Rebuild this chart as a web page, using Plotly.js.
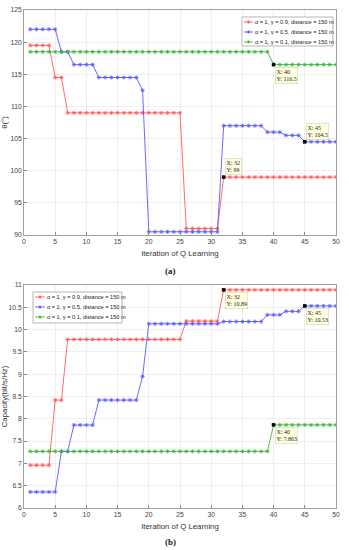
<!DOCTYPE html>
<html><head><meta charset="utf-8">
<script src="https://cdn.plot.ly/plotly-3.0.1.min.js"></script>
<style>html,body{margin:0;padding:0;background:#fff}#chart{width:349px;height:550px}</style>
</head><body><div id="chart"></div>
<script>
const iterations = [1,2,3,4,5,6,7,8,9,10,11,12,13,14,15,16,17,18,19,20,21,22,23,24,25,26,27,28,29,30,31,32,33,34,35,36,37,38,39,40,41,42,43,44,45,46,47,48,49,50];
const seriesNames = ['α = 1, γ = 0.9, distance = 150 m','α = 1, γ = 0.5, distance = 150 m','α = 1, γ = 0.1, distance = 150 m'];
const angleG09 = [119.5,119.5,119.5,119.5,114.5,114.5,109,109,109,109,109,109,109,109,109,109,109,109,109,109,109,109,109,109,109,91,91,91,91,91,91,99,99,99,99,99,99,99,99,99,99,99,99,99,99,99,99,99,99,99];
const angleG05 = [122,122,122,122,122,118.5,118.5,116.5,116.5,116.5,116.5,114.5,114.5,114.5,114.5,114.5,114.5,114.5,112.5,90.5,90.5,90.5,90.5,90.5,90.5,90.5,90.5,90.5,90.5,90.5,90.5,107,107,107,107,107,107,107,106,106,106,105.5,105.5,105.5,104.5,104.5,104.5,104.5,104.5,104.5];
const angleG01 = [118.5,118.5,118.5,118.5,118.5,118.5,118.5,118.5,118.5,118.5,118.5,118.5,118.5,118.5,118.5,118.5,118.5,118.5,118.5,118.5,118.5,118.5,118.5,118.5,118.5,118.5,118.5,118.5,118.5,118.5,118.5,118.5,118.5,118.5,118.5,118.5,118.5,118.5,118.5,116.5,116.5,116.5,116.5,116.5,116.5,116.5,116.5,116.5,116.5,116.5];
const capG09 = [6.96,6.96,6.96,6.96,8.42,8.42,9.78,9.78,9.78,9.78,9.78,9.78,9.78,9.78,9.78,9.78,9.78,9.78,9.78,9.78,9.78,9.78,9.78,9.78,9.78,10.19,10.19,10.19,10.19,10.19,10.19,10.89,10.89,10.89,10.89,10.89,10.89,10.89,10.89,10.89,10.89,10.89,10.89,10.89,10.89,10.89,10.89,10.89,10.89,10.89];
const capG05 = [6.36,6.36,6.36,6.36,6.36,7.27,7.27,7.86,7.86,7.86,7.86,8.42,8.42,8.42,8.42,8.42,8.42,8.42,8.95,10.13,10.13,10.13,10.13,10.13,10.13,10.13,10.13,10.13,10.13,10.13,10.13,10.18,10.18,10.18,10.18,10.18,10.18,10.18,10.33,10.33,10.33,10.41,10.41,10.41,10.53,10.53,10.53,10.53,10.53,10.53];
const capG01 = [7.27,7.27,7.27,7.27,7.27,7.27,7.27,7.27,7.27,7.27,7.27,7.27,7.27,7.27,7.27,7.27,7.27,7.27,7.27,7.27,7.27,7.27,7.27,7.27,7.27,7.27,7.27,7.27,7.27,7.27,7.27,7.27,7.27,7.27,7.27,7.27,7.27,7.27,7.27,7.863,7.863,7.863,7.863,7.863,7.863,7.863,7.863,7.863,7.863,7.863];
// data tips: [iteration, series index]
const angleTips = [[40,2],[45,1],[32,0]];
const capTips = [[32,0],[45,1],[40,2]];

const colors = ['#ff5a5a','#5a5aff','#3cb43c'];
const sans = '"Liberation Sans",Arial,sans-serif';
const serif = '"Liberation Serif","DejaVu Serif",serif';
const angleSets = [angleG09, angleG05, angleG01];
const capSets = [capG09, capG05, capG01];

const traces = [];
angleSets.forEach((ys,i)=>traces.push({x:iterations,y:ys,name:seriesNames[i],xaxis:'x',yaxis:'y',showlegend:false,
  mode:'lines+markers',line:{color:colors[i],width:0.9},
  marker:{symbol:'asterisk-open',size:3.5,color:colors[i],line:{color:colors[i],width:0.8}}}));
capSets.forEach((ys,i)=>traces.push({x:iterations,y:ys,name:seriesNames[i],xaxis:'x2',yaxis:'y2',showlegend:false,
  mode:'lines+markers',line:{color:colors[i],width:0.9},
  marker:{symbol:'asterisk-open',size:3.5,color:colors[i],line:{color:colors[i],width:0.8}}}));
traces.push({x:angleTips.map(t=>t[0]),y:angleTips.map(t=>angleSets[t[1]][t[0]-1]),xaxis:'x',yaxis:'y',mode:'markers',showlegend:false,
  marker:{symbol:'square',size:3.5,color:'#000'},hoverinfo:'skip'});
traces.push({x:capTips.map(t=>t[0]),y:capTips.map(t=>capSets[t[1]][t[0]-1]),xaxis:'x2',yaxis:'y2',mode:'markers',showlegend:false,
  marker:{symbol:'square',size:3.5,color:'#000'},hoverinfo:'skip'});

function tip(xr,yr,t,sets,pos){
  const v = sets[t[1]][t[0]-1];
  return {xref:xr,yref:yr,x:t[0],y:v,text:'X: '+t[0]+'<br>Y: '+v,showarrow:false,align:'left',
    xanchor:'left',yanchor:pos==='above'?'bottom':'top',xshift:1,yshift:pos==='above'?2:-2,
    bgcolor:'#ffffe0',bordercolor:'#c8c8b0',borderwidth:0.5,borderpad:1,
    font:{family:serif,size:6,color:'#222'}};
}
const annotations = [
  tip('x','y',angleTips[0],angleSets,'below'),
  tip('x','y',angleTips[1],angleSets,'above'),
  tip('x','y',angleTips[2],angleSets,'above'),
  tip('x2','y2',capTips[0],capSets,'below'),
  tip('x2','y2',capTips[1],capSets,'below'),
  tip('x2','y2',capTips[2],capSets,'below'),
  {xref:'paper',yref:'paper',x:0.47,y:0.476,text:'<b>(a)</b>',showarrow:false,yanchor:'middle',
   font:{family:serif,size:9,color:'#222'}},
  {xref:'paper',yref:'paper',x:0.47,y:-0.068,text:'<b>(b)</b>',showarrow:false,yanchor:'middle',
   font:{family:serif,size:9,color:'#222'}}
];
const shapes = [];

// hand-drawn legend boxes (pixel geometry converted to paper units)
const PL=24, PR=336, PT=10, PB=508;
const px2x = p => (p-PL)/(PR-PL);
const py2y = p => (PB-p)/(PB-PT);
function addLegend(box, rows, lineX0, lineX1, textX){
  shapes.push({type:'rect',xref:'paper',yref:'paper',x0:px2x(box[0]),x1:px2x(box[2]),y0:py2y(box[3]),y1:py2y(box[1]),
    fillcolor:'#fff',line:{color:'#888',width:0.6},layer:'above'});
  rows.forEach((ry,i)=>{
    shapes.push({type:'line',xref:'paper',yref:'paper',x0:px2x(lineX0),x1:px2x(lineX1),y0:py2y(ry),y1:py2y(ry),
      line:{color:colors[i],width:0.9},layer:'above'});
    const mx=(lineX0+lineX1)/2, s=1.6, d=1.15;
    shapes.push({type:'path',xref:'paper',yref:'paper',layer:'above',line:{color:colors[i],width:0.8},
      path:`M${px2x(mx-s)},${py2y(ry)}L${px2x(mx+s)},${py2y(ry)}M${px2x(mx)},${py2y(ry-s)}L${px2x(mx)},${py2y(ry+s)}`+
           `M${px2x(mx-d)},${py2y(ry-d)}L${px2x(mx+d)},${py2y(ry+d)}M${px2x(mx-d)},${py2y(ry+d)}L${px2x(mx+d)},${py2y(ry-d)}`});
    annotations.push({xref:'paper',yref:'paper',x:px2x(textX),y:py2y(ry),text:seriesNames[i],showarrow:false,
      xanchor:'left',yanchor:'middle',borderpad:0,font:{family:sans,size:5.6,color:'#222'}});
  });
}
addLegend([242,17,333,46],[22,32,42],244,253,253.5);
addLegend([33,292,122,323],[297,307,317],35,45,45.5);

const axBase = {showline:true,mirror:true,linecolor:'#888',linewidth:0.8,gridcolor:'#e4e4e4',gridwidth:0.6,
  ticks:'inside',ticklen:3,tickcolor:'#888',zeroline:false,tickfont:{family:sans,size:6.8,color:'#444'}};
const titleFont = {family:sans,size:7.8,color:'#333'};

const layout = {
  width:349,height:550,margin:{l:PL,r:349-PR,t:PT,b:550-PB},paper_bgcolor:'#fff',plot_bgcolor:'#fff',
  showlegend:false,
  xaxis:Object.assign({},axBase,{domain:[0,1],anchor:'y',range:[0,50],dtick:5,
    title:{text:'iteration of Q Learning',font:titleFont,standoff:6}}),
  yaxis:Object.assign({},axBase,{domain:[py2y(235),1],anchor:'x',range:[90,125],dtick:5,
    title:{text:'θ(°)',font:titleFont,standoff:3}}),
  xaxis2:Object.assign({},axBase,{domain:[0,1],anchor:'y2',range:[0,50],dtick:5,
    title:{text:'Iteration of Q Learning',font:titleFont,standoff:6}}),
  yaxis2:Object.assign({},axBase,{domain:[0,py2y(285)],anchor:'x2',range:[6,11],dtick:0.5,
    title:{text:'Capacity(bit/s/Hz)',font:titleFont,standoff:3}}),
  annotations:annotations,
  shapes:shapes
};
Plotly.newPlot('chart',traces,layout,{staticPlot:true,displayModeBar:false});
</script></body></html>
